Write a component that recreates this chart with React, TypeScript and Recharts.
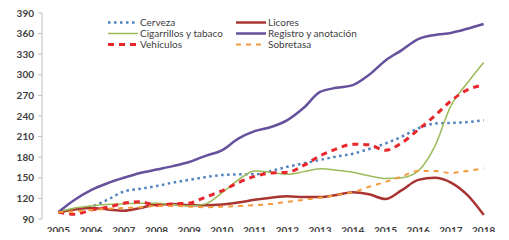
import React from 'react';
import { LineChart, Line, XAxis, YAxis } from 'recharts';

// semi-annual points, index 2005 = 100
const periods = [
  2005, 2005.5, 2006, 2006.5, 2007, 2007.5, 2008, 2008.5, 2009, 2009.5,
  2010, 2010.5, 2011, 2011.5, 2012, 2012.5, 2013, 2013.5, 2014, 2014.5,
  2015, 2015.5, 2016, 2016.5, 2017, 2017.5, 2018,
];
const yearTicks = [2005, 2006, 2007, 2008, 2009, 2010, 2011, 2012, 2013, 2014, 2015, 2016, 2017, 2018];
const gapTicks = [2004.5, 2005.5, 2006.5, 2007.5, 2008.5, 2009.5, 2010.5, 2011.5, 2012.5, 2013.5, 2014.5, 2015.5, 2016.5, 2017.5, 2018.5];
const valueTicks = [90, 120, 150, 180, 210, 240, 270, 300, 330, 360, 390];

const cerveza = [100, 104, 108, 118, 130, 134, 138, 143, 147, 151, 154, 155, 155, 160, 166, 171, 176, 181, 185, 192, 200, 210, 222, 229, 230, 231, 234];
const licores = [100, 104, 106, 104, 102, 106, 111, 112, 110, 110, 111, 114, 118, 121, 123, 122, 122, 125, 129, 126, 119, 132, 147, 150, 143, 125, 96];
const cigarrillos = [100, 106, 109, 111, 112, 113, 113, 111, 109, 112, 128, 147, 160, 158, 155, 159, 163, 161, 158, 153, 149, 150, 160, 195, 255, 288, 318];
const registro = [100, 118, 132, 142, 150, 157, 162, 167, 173, 182, 190, 207, 218, 224, 234, 252, 275, 281, 285, 300, 321, 336, 352, 358, 361, 367, 374];
const vehiculos = [100, 97, 103, 107, 113, 115, 110, 112, 113, 122, 131, 143, 152, 157, 158, 168, 182, 192, 199, 198, 190, 201, 220, 240, 262, 278, 285];
const sobretasa = [100, 101, 103, 105, 106, 107, 109, 109, 108, 107, 108, 109, 110, 112, 115, 118, 121, 125, 129, 137, 144, 152, 160, 160, 157, 160, 164];

const series = [
  { key: 'cerveza', name: 'Cerveza', values: cerveza, color: '#4f81bd', width: 2.5, dash: '2.5 3.5' },
  { key: 'licores', name: 'Licores', values: licores, color: '#a93532', width: 2.5, dash: undefined },
  { key: 'cigarrillos', name: 'Cigarrillos y tabaco', values: cigarrillos, color: '#9bbb59', width: 1.5, dash: undefined },
  { key: 'registro', name: 'Registro y anotación', values: registro, color: '#66519c', width: 2.5, dash: undefined },
  { key: 'vehiculos', name: 'Vehículos', values: vehiculos, color: '#e8262c', width: 3, dash: '6 5' },
  { key: 'sobretasa', name: 'Sobretasa', values: sobretasa, color: '#f39a3c', width: 2, dash: '5 5' },
];

const data = periods.map((p, i) => {
  const row: Record<string, number> = { year: p };
  series.forEach((s) => {
    row[s.key] = s.values[i];
  });
  return row;
});

const tickStyle = { fontFamily: 'Lato', fontSize: 10, fontWeight: 700, fill: '#404040' };

// legend drawn as an overlay so it doesn't push the plot area down
const LegendBox = () => (
  <div
    style={{
      position: 'absolute',
      left: 108,
      top: 17,
      display: 'grid',
      gridTemplateColumns: '128px 140px',
      fontFamily: 'Lato',
      fontSize: 10,
      color: '#404040',
      lineHeight: '11px',
    }}
  >
    {[0, 1, 2].map((r) =>
      [0, 1].map((c) => {
        const s = series[r * 2 + c];
        return (
          <div key={s.key} style={{ display: 'flex', alignItems: 'center' }}>
            <svg width={31} height={11}>
              <line x1={0} y1={5.5} x2={30} y2={5.5} stroke={s.color} strokeWidth={s.width} strokeDasharray={s.dash} />
            </svg>
            <span style={{ marginLeft: 1 }}>{s.name}</span>
          </div>
        );
      })
    )}
  </div>
);

export default function App() {
  return (
    <div style={{ margin: -8, background: '#fff', width: 509, height: 240, position: 'relative' }}>
      <LineChart width={509} height={240} data={data} margin={{ top: 13, right: 9, bottom: 0, left: 0 }}>
        <XAxis
          xAxisId="gaps"
          dataKey="year"
          type="number"
          domain={[2004.5, 2018.5]}
          ticks={gapTicks}
          tick={false}
          height={0}
          stroke="#bfbfbf"
          tickSize={4}
        />
        <XAxis
          xAxisId="years"
          dataKey="year"
          type="number"
          domain={[2004.5, 2018.5]}
          ticks={yearTicks}
          axisLine={false}
          tickLine={false}
          tickSize={0}
          height={21}
          tickMargin={8}
          tick={tickStyle}
          interval={0}
        />
        <YAxis
          domain={[90, 390]}
          ticks={valueTicks}
          width={42}
          stroke="#bfbfbf"
          tickSize={4}
          tickMargin={4}
          tick={tickStyle}
          interval={0}
        />
        {series.map((s) => (
          <Line
            key={s.key}
            xAxisId="years"
            dataKey={s.key}
            name={s.name}
            type="monotone"
            stroke={s.color}
            strokeWidth={s.width}
            strokeDasharray={s.dash}
            dot={false}
            isAnimationActive={false}
          />
        ))}
      </LineChart>
      <LegendBox />
    </div>
  );
}
